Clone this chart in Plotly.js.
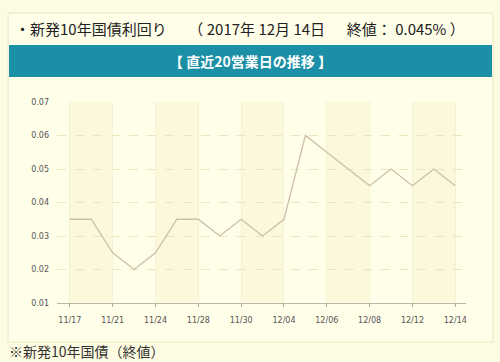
<!DOCTYPE html>
<html><head><meta charset="utf-8">
<script src="https://cdn.plot.ly/plotly-3.0.1.min.js"></script>
<style>html,body{margin:0;padding:0;background:#fdfbe1;}#chart{width:500px;height:362px;}</style>
</head><body><div id="chart"></div>
<script>
var dates = ["11/17","11/20","11/21","11/22","11/24","11/27","11/28","11/29","11/30","12/01","12/04","12/05","12/06","12/07","12/08","12/11","12/12","12/13","12/14"];
var yields = [0.035,0.035,0.025,0.020,0.025,0.035,0.035,0.030,0.035,0.030,0.035,0.060,0.055,0.050,0.045,0.050,0.045,0.050,0.045];
var tickLabels = ["11/17","11/21","11/24","11/28","11/30","12/04","12/06","12/08","12/12","12/14"];
var tickIdx = [0,2,4,6,8,10,12,14,16,18];
var yTicks = [0.01,0.02,0.03,0.04,0.05,0.06,0.07];

var W=500,H=362,L=57,R=34,T=102,B=59;
var pw=W-L-R, ph=H-T-B;
function px(x){return (x-L)/pw;}
function py(y){return 1-(y-T)/ph;}

var shapes=[];
shapes.push({type:'rect',xref:'paper',yref:'paper',x0:px(8),x1:px(493),y0:py(342),y1:py(13),fillcolor:'#fffee9',line:{color:'#ece8c6',width:1},layer:'below'});
shapes.push({type:'rect',xref:'paper',yref:'paper',x0:px(9),x1:px(492),y0:py(77),y1:py(45),fillcolor:'#1b8fa6',line:{width:0},layer:'below'});
for(var i=0;i<tickIdx.length-1;i+=2){
  shapes.push({type:'rect',xref:'x',yref:'paper',x0:tickIdx[i],x1:tickIdx[i+1],y0:0,y1:1,fillcolor:'#fcf8dc',line:{width:0},layer:'below'});
}

var trace={x:dates.map(function(d,i){return i;}),y:yields,type:'scatter',mode:'lines',line:{color:'#cdbfa8',width:1.3},hoverinfo:'skip'};

var layout={
  width:W,height:H,margin:{l:L,r:R,t:T,b:B},
  paper_bgcolor:'#fdfbe1',plot_bgcolor:'rgba(0,0,0,0)',
  showlegend:false,
  xaxis:{range:[-0.6,18.5],tickvals:tickIdx,ticktext:tickLabels,showgrid:true,gridcolor:'#f6f1d4',gridwidth:1,
    zeroline:false,showline:true,linecolor:'#b8b8a8',linewidth:1,ticks:'outside',ticklen:3,tickcolor:'#a8a898',
    ticklabelstandoff:6,tickfont:{family:'DejaVu Sans',size:8,color:'#555'}},
  yaxis:{range:[0.01,0.07],tickvals:yTicks,ticktext:yTicks.map(function(v){return v.toFixed(2);}),showgrid:true,gridcolor:'#ebe4bd',griddash:'dash',
    zeroline:false,showline:false,ticks:'',ticklabelstandoff:7,tickfont:{family:'DejaVu Sans',size:8,color:'#555'}},
  shapes:shapes,
  annotations:[
    {xref:'paper',yref:'paper',x:px(13),y:py(28),xanchor:'left',yanchor:'middle',showarrow:false,
     text:'・新発10年国債利回り　  （ 2017年 12月 14日　  終値： 0.045% ）',font:{family:'Noto Sans CJK JP',size:15,color:'#222'}},
    {xref:'paper',yref:'paper',x:px(250),y:py(61),xanchor:'center',yanchor:'middle',showarrow:false,
     text:'<b>【 直近20営業日の推移 】</b>',font:{family:'Noto Sans CJK JP',size:14,color:'#ffffff'}},
    {xref:'paper',yref:'paper',x:px(7),y:py(351),xanchor:'left',yanchor:'middle',showarrow:false,
     text:'※新発10年国債（終値）',font:{family:'Noto Sans CJK JP',size:14,color:'#333'}}
  ]
};
Plotly.newPlot('chart',[trace],layout,{staticPlot:true});
</script></body></html>
